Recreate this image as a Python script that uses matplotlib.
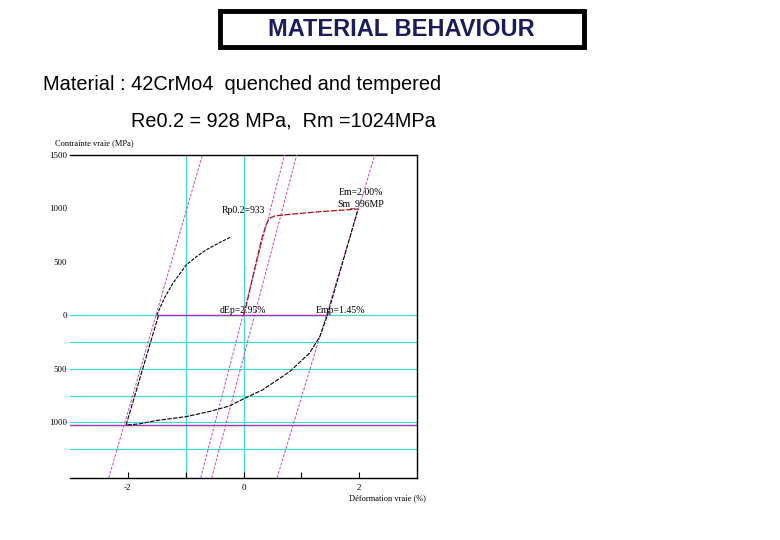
import matplotlib.pyplot as plt
from matplotlib.patches import Rectangle

# strain (%) / stress (MPa)
mono_eps = [-1.50, -1.37, -1.22, -0.99, -0.80, -0.65, -0.40, -0.21]
mono_sig = [0, 161, 301, 472, 555, 612, 685, 736]

red_eps = [0.0, 0.03, 0.19, 0.31, 0.39, 0.45, 0.54, 0.68, 1.0, 1.32, 1.98]
red_sig = [0, 50, 430, 706, 846, 908, 930, 939, 955, 970, 995]

cyc_eps = [-1.47, -2.03, -1.80, -1.51, -0.99, -0.60, -0.24, 0.0, 0.33, 0.80, 1.14, 1.32, 1.45, 1.98]
cyc_sig = [0, -1025, -1014, -983, -946, -900, -846, -780, -696, -525, -353, -198, 0, 995]

# elastic slope lines: strain at bottom / top of the frame
elastic_bottom = [-2.33, -0.74, -0.55, 0.58]
elastic_top = [-0.71, 0.71, 0.92, 2.27]

grid_neg = [0, -250, -500, -750, -1000, -1250]
grid_v = [-1, 0]
dEp_range = [-1.47, 1.45]
sig_min_line = -1022

ytick_vals = [1500, 1000, 500, 0, -500, -1000]
ytick_labels = ['1500', '1000', '500', '0', '500', '1000']
xtick_vals = [-2, -1, 0, 1, 2]
xtick_labels = ['-2', '', '0', '', '2']

cyan = '#3fd8d8'
magenta = '#cc44cc'
purple = '#a035b8'
serif = 'Liberation Serif'

fig = plt.figure(figsize=(7.8, 5.4), dpi=100)
ax = fig.add_axes([70/780, 1-478/540, 347/780, 323/540])
ax.set_xlim(-3, 3)
ax.set_ylim(-1520, 1500)

for y in grid_neg:
    ax.axhline(y, color=cyan, lw=0.9, zorder=1)
for x in grid_v:
    ax.axvline(x, color=cyan, lw=0.9, zorder=1)
ax.axhline(sig_min_line, color=purple, lw=1.0, zorder=2)
ax.plot(dEp_range, [0, 0], color=purple, lw=1.0, zorder=2)

for xb, xt in zip(elastic_bottom, elastic_top):
    ax.plot([xb, xt], [-1520, 1500], color=magenta, lw=0.7, ls=(0, (3, 1.5)), zorder=3)

ax.plot(mono_eps, mono_sig, color='black', lw=0.8, ls=(0, (3, 1.2)), zorder=4)
ax.plot(cyc_eps, cyc_sig, color='black', lw=0.8, ls=(0, (4, 1.2)), zorder=4)
ax.plot(red_eps, red_sig, color='#a01818', lw=0.9, ls=(0, (5, 1.2)), zorder=4)

ax.spines['left'].set_visible(False)
for s in ['top', 'right', 'bottom']:
    ax.spines[s].set_linewidth(1.0)

ax.set_yticks(ytick_vals)
ax.set_yticklabels(ytick_labels, fontsize=6.3, family=serif)
ax.tick_params(axis='y', length=0, pad=2)
ax.set_xticks(xtick_vals)
ax.set_xticklabels(xtick_labels, fontsize=6.5, family=serif)
ax.tick_params(axis='x', direction='in', length=4, pad=4)

txt = dict(fontsize=7, family=serif, va='center', ha='left')
ax.text(-0.38, 977, 'Rp0.2=933', **txt)
ax.text(1.645, 1145, 'Em=2.00%', **txt)
ax.text(1.63, 1042, 'Sm_996MP', **txt)
ax.text(-0.42, 42, 'dEp=2.95%', **txt)
ax.text(1.25, 42, 'Emp=1.45%', **txt)

fig.text(55/780, 1-143/540, 'Contrainte vraie (MPa)', fontsize=6, family=serif, va='center')
fig.text(349/780, 1-498/540, 'Déformation vraie (%)', fontsize=6, family=serif, va='center')

# title box
fig.patches.append(Rectangle((219.5/780, 1-46.5/540), 364/780, 36/540, transform=fig.transFigure,
                             fill=False, edgecolor='black', linewidth=3.5))
fig.text(401/780, 1-30/540, 'MATERIAL BEHAVIOUR', fontsize=17, family='Liberation Sans',
         weight='bold', color='#1c1c5c', ha='center', va='center')
fig.text(43/780, 1-85/540, 'Material : 42CrMo4  quenched and tempered', fontsize=14.4,
         family='Liberation Sans', va='center')
fig.text(131/780, 1-121/540, 'Re0.2 = 928 MPa,  Rm =1024MPa', fontsize=14.3,
         family='Liberation Sans', va='center')

fig.savefig('out.png', dpi=100)
